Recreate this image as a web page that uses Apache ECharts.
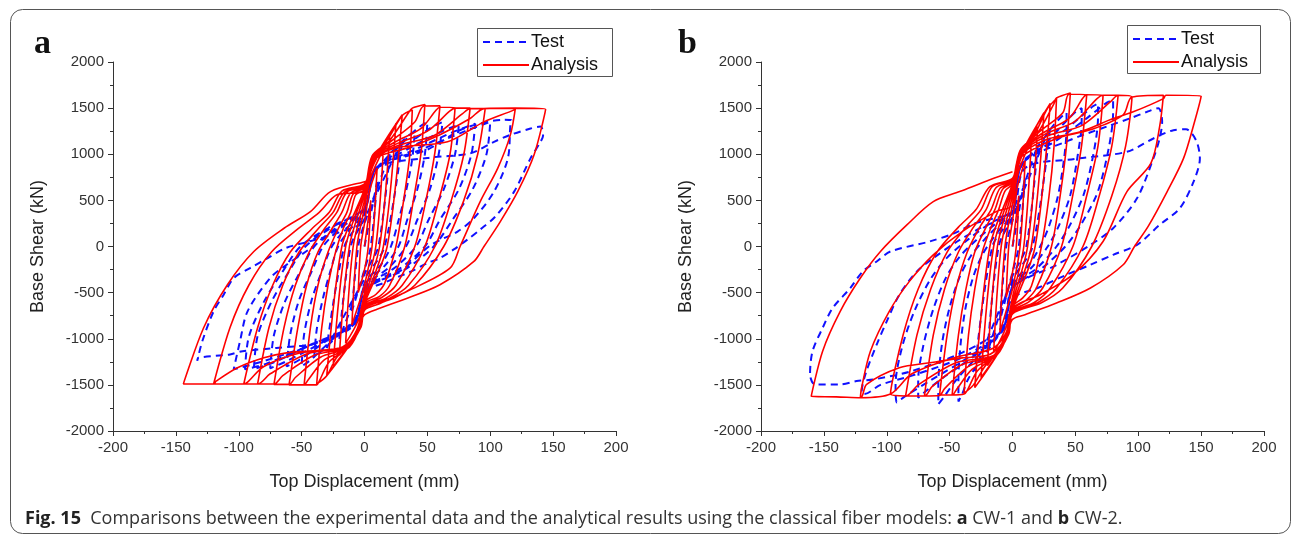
<!DOCTYPE html>
<html><head><meta charset="utf-8">
<script src="https://cdn.jsdelivr.net/npm/echarts@6/dist/echarts.min.js"></script>
<style>html,body{margin:0;padding:0;background:#fff}#c{width:1295px;height:536px}</style>
</head><body><div id="c"></div>
<script>
// CW-1 (panel a): Test hysteresis (displacement mm, base shear kN)
const cw1Test = [
[0,0],[10,700],[5,0],[0,-250],[-10,-700],[-5,0],[0,250],
[20,1000],[11,0],[0,-300],[-20,-1000],[-11,0],[0,300],
[30,1150],[16,0],[0,-350],[-30,-1100],[-16,0],[0,350],
[6,750],[20,1000],[33,1180],[40,1250],[38,950],[33,600],[27,280],[21,0],[13,-200],[0,-400],[-6,-750],[-20,-950],[-33,-1120],[-40,-1200],[-38,-900],[-33,-560],[-27,-260],[-21,0],[-12,180],[0,360],
[6,780],[25,1050],[42,1280],[50,1350],[48,1000],[42,620],[34,290],[27,0],[16,-210],[0,-420],[-6,-780],[-25,-1000],[-42,-1220],[-50,-1300],[-48,-950],[-42,-580],[-34,-270],[-26,0],[-15,190],[0,380],
[7,800],[30,1060],[52,1280],[62,1350],[59,1000],[52,620],[42,290],[33,0],[20,-220],[0,-440],[-7,-800],[-30,-1020],[-52,-1230],[-62,-1300],[-59,-950],[-52,-580],[-42,-270],[-33,0],[-19,200],[0,400],
[8,820],[35,1060],[62,1250],[75,1320],[72,1000],[63,620],[51,290],[41,0],[24,-230],[0,-450],[-8,-820],[-35,-1050],[-63,-1250],[-75,-1320],[-72,-960],[-63,-590],[-51,-270],[-40,0],[-23,200],[0,410],
[8,830],[40,1050],[72,1250],[88,1330],[85,1000],[75,620],[60,290],[48,0],[28,-240],[0,-460],[-8,-830],[-40,-1050],[-73,-1260],[-88,-1330],[-85,-970],[-74,-600],[-60,-270],[-47,0],[-27,200],[0,420],
[9,840],[45,1050],[80,1250],[100,1350],[97,1000],[86,620],[70,290],[55,0],[32,-250],[0,-470],[-8,-840],[-42,-1060],[-78,-1270],[-95,-1330],[-92,-980],[-80,-600],[-65,-270],[-51,0],[-29,200],[0,420],
[9,850],[50,1050],[79,1279],[111,1373],[117,1370],[116,1319],[114,955],[103,595],[87,306],[74,162],[53,18],[30,-250],[0,-480],[-8,-850],[-45,-1080],[-82,-1250],[-104,-1330],[-99,-1027],[-93,-703],[-75,-342],[-62,-198],[-45,-40],[-26,150],[0,400],
[10,850],[50,960],[84,1009],[103,1135],[116,1210],[132,1279],[140,1300],[142,1200],[140,1135],[132,955],[119,595],[104,324],[92,184],[82,76],[71,-32],[60,-126],[50,-180],[37,-270],[15,-397],[0,-490],[-8,-850],[-40,-1050],[-70,-1100],[-97,-1135],[-107,-1170],[-132,-1207],[-133,-1240],[-129,-1027],[-120,-703],[-112,-523],[-104,-342],[-91,-234],[-77,-126],[-63,-18],[-44,54],[-25,130],[0,250]
];
// CW-1 (panel a): Analysis
const cw1Analysis = [
[0,0],[5,500],[3,0],[0,-250],[-5,-500],[-3,0],[0,250],
[4,600],[10,850],[6,0],[0,-420],[-4,-600],[-10,-850],[-6,0],[0,420],
[5,750],[15,1050],[9,0],[0,-500],[-5,-800],[-15,-1050],[-9,0],[0,500],
[6,850],[20,1200],[12,0],[0,-560],[-6,-900],[-20,-1180],[-12,0],[0,560],
[7,900],[25,1330],[15,0],[0,-600],[-7,-950],[-25,-1300],[-15,0],[0,600],
[8,950],[30,1430],[18,0],[0,-620],[-8,-980],[-30,-1400],[-18,0],[0,620],
[6,950],[18,1150],[30,1420],[38,1480],[36,990],[31,490],[25,0],[16,-400],[9,-520],[0,-600],[-3,-820],[-10,-1050],[-22,-1200],[-30,-1400],[-38,-1490],[-34,-880],[-29,-420],[-23,-60],[-17,190],[-11,370],[-7,560],[0,620],
[6,980],[20,1150],[35,1450],[38,1500],[48,1540],[45,1020],[39,510],[32,0],[20,-420],[12,-540],[0,-620],[-3,-830],[-12,-1080],[-28,-1250],[-36,-1460],[-38,-1500],[-48,-1500],[-43,-880],[-37,-420],[-29,-60],[-21,190],[-14,370],[-9,570],[0,640],
[7,980],[22,1150],[40,1350],[47,1520],[60,1525],[56,1020],[49,510],[40,0],[25,-420],[14,-550],[0,-640],[-3,-850],[-12,-1090],[-32,-1230],[-45,-1450],[-48,-1500],[-60,-1500],[-53,-880],[-46,-420],[-37,-60],[-26,190],[-18,370],[-11,580],[0,650],
[7,980],[24,1130],[45,1280],[57,1480],[60,1510],[72,1505],[68,1000],[59,500],[48,0],[30,-420],[17,-560],[0,-650],[-3,-860],[-13,-1090],[-35,-1200],[-55,-1420],[-60,-1495],[-72,-1495],[-64,-880],[-55,-420],[-44,-60],[-32,190],[-22,370],[-14,590],[0,660],
[7,970],[25,1110],[50,1250],[68,1470],[72,1500],[84,1500],[79,1000],[69,500],[56,0],[35,-420],[20,-560],[0,-660],[-3,-870],[-14,-1090],[-40,-1180],[-65,-1400],[-72,-1490],[-85,-1490],[-76,-880],[-65,-420],[-52,-60],[-37,190],[-25,370],[-16,590],[0,670],
[8,960],[28,1100],[55,1200],[78,1440],[84,1495],[96,1495],[90,1000],[79,500],[63,0],[40,-420],[23,-560],[0,-670],[-3,-880],[-15,-1090],[-45,-1160],[-75,-1380],[-85,-1490],[-96,-1490],[-85,-880],[-73,-420],[-59,-60],[-42,190],[-28,370],[-18,600],[0,680],
[8,950],[37,1081],[60,1211],[84,1387],[95,1495],[120,1500],[116,1210],[106,850],[92,486],[76,0],[68,-235],[34,-486],[12,-620],[0,-690],[-3,-880],[-17,-1090],[-50,-1150],[-80,-1300],[-93,-1470],[-96,-1490],[-120,-1490],[-107,-880],[-92,-420],[-74,-60],[-53,190],[-36,370],[-22,560],[0,600],
[5,900],[23,1063],[66,1135],[95,1351],[119,1481],[120,1500],[144,1489],[135,1000],[122,600],[108,270],[95,0],[87,-162],[60,-414],[34,-560],[10,-680],[0,-740],[-3,-810],[-10,-1000],[-20,-1100],[-62,-1153],[-80,-1207],[-101,-1315],[-118,-1460],[-120,-1490],[-144,-1489],[-128,-883],[-109,-414],[-88,-54],[-64,198],[-43,378],[-27,595],[0,703],[2,710]
];
// CW-2 (panel b): Test
const cw2Test = [
[0,0],[10,750],[5,0],[0,-280],[-10,-800],[-5,0],[0,280],
[20,1100],[11,0],[0,-320],[-20,-1150],[-11,0],[0,320],
[30,1300],[16,0],[0,-360],[-30,-1350],[-16,0],[0,340],
[6,840],[20,1080],[33,1320],[40,1420],[43,1450],[43,1300],[41,950],[36,540],[29,220],[22,0],[12,-220],[0,-400],[-6,-840],[-20,-1130],[-35,-1430],[-40,-1600],[-43,-1680],[-43,-1450],[-41,-1020],[-37,-640],[-31,-320],[-24,-90],[-16,80],[-8,220],[0,350],
[6,860],[25,1100],[42,1350],[51,1470],[55,1500],[55,1350],[52,1000],[46,560],[37,230],[28,0],[15,-230],[0,-420],[-6,-860],[-25,-1150],[-45,-1450],[-55,-1640],[-59,-1710],[-59,-1500],[-56,-1050],[-50,-660],[-42,-330],[-33,-100],[-22,80],[-11,230],[0,370],
[7,880],[30,1130],[52,1380],[64,1520],[68,1550],[68,1400],[65,1050],[57,580],[46,240],[35,0],[19,-240],[0,-430],[-7,-880],[-30,-1180],[-55,-1420],[-70,-1580],[-75,-1640],[-75,-1450],[-71,-1080],[-63,-680],[-53,-340],[-42,-110],[-28,80],[-14,240],[0,380],
[7,900],[35,1150],[60,1400],[75,1560],[80,1590],[80,1450],[77,1100],[68,600],[55,250],[42,0],[22,-250],[0,-450],[-7,-900],[-35,-1200],[-65,-1450],[-85,-1620],[-92,-1690],[-93,-1500],[-88,-1100],[-78,-700],[-65,-350],[-52,-120],[-35,80],[-18,250],[0,400],
[8,900],[45,1150],[75,1300],[93,1387],[107,1460],[116,1500],[119,1351],[117,1171],[112,955],[99,522],[80,198],[60,0],[35,-200],[0,-450],[-8,-900],[-40,-1200],[-80,-1400],[-105,-1500],[-118,-1600],[-120,-1585],[-117,-1387],[-108,-1063],[-100,-811],[-90,-523],[-76,-270],[-63,-126],[-44,54],[-26,198],[0,380],
[10,850],[50,950],[91,1027],[112,1171],[128,1261],[138,1270],[146,1150],[149,955],[144,703],[133,414],[117,234],[99,18],[80,-90],[62,-198],[43,-306],[20,-450],[0,-560],[-10,-900],[-40,-1150],[-80,-1350],[-110,-1440],[-124,-1459],[-137,-1495],[-157,-1495],[-161,-1387],[-159,-1135],[-151,-883],[-143,-667],[-129,-450],[-119,-270],[-108,-162],[-97,-54],[-66,54],[-45,150],[-30,250],[0,350]
];
// CW-2 (panel b): Analysis
const cw2Analysis = [
[0,0],[5,550],[3,0],[0,-280],[-5,-550],[-3,0],[0,280],
[4,650],[10,930],[6,0],[0,-460],[-4,-650],[-10,-930],[-6,0],[0,460],
[5,820],[15,1150],[9,0],[0,-550],[-5,-870],[-15,-1150],[-9,0],[0,550],
[6,930],[20,1300],[12,0],[0,-610],[-6,-980],[-20,-1290],[-12,0],[0,610],
[7,980],[25,1450],[15,0],[0,-650],[-7,-1040],[-25,-1420],[-15,0],[0,650],
[8,1030],[30,1550],[18,0],[0,-680],[-8,-1070],[-30,-1530],[-18,0],[0,680],
[6,1000],[17,1200],[28,1500],[35,1604],[33,1080],[29,540],[23,0],[15,-430],[8,-560],[0,-650],[-3,-880],[-10,-1120],[-22,-1300],[-31,-1500],[-38.5,-1590],[-35,-960],[-30,-460],[-24,-60],[-17,210],[-11,400],[-6,600],[0,680],
[6,1040],[20,1230],[33,1550],[35,1610],[46,1665],[43,1100],[38,560],[31,0],[19,-450],[11,-580],[0,-680],[-3,-900],[-12,-1150],[-28,-1350],[-36,-1560],[-38.5,-1600],[-48,-1610],[-43,-960],[-37,-460],[-30,-60],[-21,210],[-14,400],[-8,620],[0,700],
[7,1050],[22,1250],[40,1450],[45,1650],[59,1647],[55,1100],[48,560],[39,0],[24,-450],[13,-600],[0,-700],[-3,-920],[-12,-1170],[-32,-1330],[-45,-1560],[-48,-1610],[-58,-1610],[-52,-960],[-45,-460],[-36,-60],[-26,210],[-17,400],[-10,630],[0,710],
[7,1040],[24,1230],[45,1390],[56,1610],[59,1645],[72,1640],[68,1090],[59,550],[48,0],[30,-450],[17,-610],[0,-710],[-3,-930],[-13,-1180],[-35,-1300],[-54,-1540],[-58,-1615],[-70,-1620],[-63,-960],[-54,-460],[-43,-60],[-31,210],[-21,400],[-13,640],[0,720],
[7,1030],[25,1210],[50,1360],[67,1600],[72,1640],[84,1640],[79,1090],[69,550],[56,0],[35,-450],[20,-610],[0,-720],[-3,-940],[-14,-1180],[-40,-1280],[-64,-1520],[-70,-1620],[-85,-1620],[-76,-960],[-65,-460],[-52,-60],[-37,210],[-25,400],[-16,650],[0,730],
[8,1020],[28,1200],[55,1310],[78,1570],[84,1640],[95,1622],[90,1090],[79,550],[63,0],[40,-450],[23,-610],[0,-730],[-3,-950],[-15,-1180],[-45,-1260],[-75,-1500],[-85,-1620],[-97,-1600],[-87,-960],[-75,-460],[-60,-60],[-43,210],[-29,400],[-18,650],[0,740],
[5,950],[35,1171],[62,1265],[88,1427],[95,1620],[120,1640],[117,1300],[110,900],[91,595],[72,54],[48,-306],[22,-523],[0,-667],[-3,-880],[-15,-1100],[-45,-1200],[-80,-1380],[-97,-1600],[-121,-1640],[-120,-1531],[-113,-1135],[-98,-703],[-82,-378],[-63,-90],[-40,162],[-13,378],[0,450],
[5,950],[25,1150],[54,1243],[80,1387],[96,1460],[120,1603],[122,1640],[150,1632],[144,1315],[136,955],[123,595],[108,220],[97,0],[88,-198],[62,-450],[35,-613],[10,-740],[0,-790],[-3.5,-919],[-10,-1080],[-20,-1180],[-40,-1207],[-66,-1261],[-90,-1315],[-116,-1495],[-121,-1640],[-140,-1630],[-160,-1625],[-151,-1135],[-137,-703],[-121,-342],[-105,-54],[-84,234],[-63,486],[-42,595],[-18,724],[0,811]
];
const seriesNames = ['Test', 'Analysis'];
const panelLabels = ['a', 'b'];
const xAxisName = 'Top Displacement (mm)';
const yAxisName = 'Base Shear (kN)';

const FONT = 'Liberation Sans';
const BLUE = '#1010ff', RED = '#ff0000';
function xAx(i) {
  return {
    type: 'value', gridIndex: i, min: -200, max: 200, interval: 50,
    name: xAxisName, nameLocation: 'middle', nameGap: 42,
    nameTextStyle: { fontFamily: FONT, fontSize: 18, color: '#222' },
    axisLine: { onZero: false, lineStyle: { color: '#333', width: 1 } },
    axisTick: { inside: false, length: 5, lineStyle: { color: '#333' } },
    minorTick: { show: true, splitNumber: 2, length: 3, lineStyle: { color: '#333' } },
    splitLine: { show: false },
    axisLabel: { fontFamily: FONT, fontSize: 15, color: '#333', margin: 9, formatter: v => String(v) }
  };
}
function yAx(i) {
  return {
    type: 'value', gridIndex: i, min: -2000, max: 2000, interval: 500,
    name: yAxisName, nameLocation: 'middle', nameGap: 66, nameRotate: 90,
    nameTextStyle: { fontFamily: FONT, fontSize: 18, color: '#222' },
    axisLine: { show: true, onZero: false, lineStyle: { color: '#333', width: 1 } },
    axisTick: { show: true, inside: false, length: 5, lineStyle: { color: '#333' } },
    minorTick: { show: true, splitNumber: 2, length: 3, lineStyle: { color: '#333' } },
    splitLine: { show: false },
    axisLabel: { fontFamily: FONT, fontSize: 15, color: '#333', margin: 9, formatter: v => String(v) }
  };
}
function testSeries(i, data) {
  return { name: seriesNames[0], type: 'line', xAxisIndex: i, yAxisIndex: i, data: data,
    showSymbol: false, symbol: 'none', smooth: 0.3, z: 2,
    lineStyle: { color: BLUE, width: 2, type: [7, 5] }, itemStyle: { color: BLUE } };
}
function anaSeries(i, data) {
  return { name: seriesNames[1], type: 'line', xAxisIndex: i, yAxisIndex: i, data: data,
    showSymbol: false, symbol: 'none', smooth: 0.3, z: 3,
    lineStyle: { color: RED, width: 1.6 }, itemStyle: { color: RED } };
}
// legend box drawn as graphic (box, line samples, labels)
function legendBox(x, y, w, h, row1, row2) {
  return [
    { type: 'rect', shape: { x: x + 0.5, y: y + 0.5, width: w, height: h }, style: { fill: '#fff', stroke: '#555', lineWidth: 1 }, z: 10 },
    { type: 'line', shape: { x1: x + 6, y1: row1, x2: x + 52, y2: row1 }, style: { stroke: BLUE, lineWidth: 2, lineDash: [7, 5] }, z: 11 },
    { type: 'text', x: x + 54, y: row1, style: { text: seriesNames[0], font: '18px Liberation Sans', fill: '#111', verticalAlign: 'middle' }, z: 11 },
    { type: 'line', shape: { x1: x + 6, y1: row2, x2: x + 52, y2: row2 }, style: { stroke: RED, lineWidth: 2 }, z: 11 },
    { type: 'text', x: x + 54, y: row2, style: { text: seriesNames[1], font: '18px Liberation Sans', fill: '#111', verticalAlign: 'middle' }, z: 11 }
  ];
}

const chart = echarts.init(document.getElementById('c'), null, { renderer: 'canvas' });
chart.setOption({
  animation: false,
  backgroundColor: '#fff',
  title: [
    { text: panelLabels[0], left: 29, top: 22, textStyle: { fontFamily: 'Liberation Serif', fontWeight: 'bold', fontSize: 34, color: '#111' } },
    { text: panelLabels[1], left: 673, top: 22, textStyle: { fontFamily: 'Liberation Serif', fontWeight: 'bold', fontSize: 34, color: '#111' } },
    { text: '{b|Fig. 15}  Comparisons between the experimental data and the analytical results using the classical fiber models: {b|a} CW-1 and {b|b} CW-2.',
      left: 20, top: 505,
      textStyle: { fontFamily: 'Open Sans', fontSize: 18, fontWeight: 'normal', color: '#333',
        rich: { b: { fontFamily: 'Open Sans', fontSize: 18, fontWeight: 'bold', color: '#222' } } } }
  ],
  grid: [
    { left: 113, top: 62, width: 503, height: 369 },
    { left: 761, top: 62, width: 503, height: 369 }
  ],
  xAxis: [xAx(0), xAx(1)],
  yAxis: [yAx(0), yAx(1)],
  series: [testSeries(0, cw1Test), anaSeries(0, cw1Analysis), testSeries(1, cw2Test), anaSeries(1, cw2Analysis)],
  graphic: [
    { type: 'rect', silent: true, z: -1,
      shape: { x: 10.5, y: 9.5, width: 1280, height: 524, r: 12 },
      style: { fill: 'none', stroke: '#555', lineWidth: 1 } }
  ].concat(legendBox(477, 28, 135, 48, 42, 65)).concat(legendBox(1127, 25, 133, 48, 39, 62))
});
</script></body></html>
